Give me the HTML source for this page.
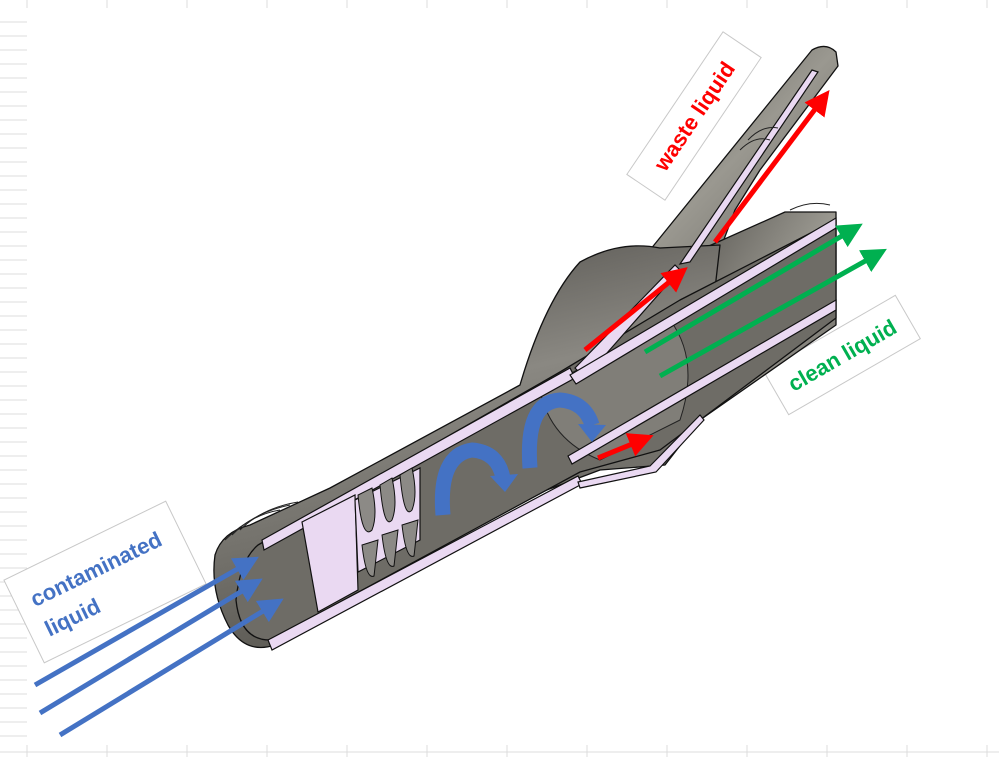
<!DOCTYPE html>
<html><head><meta charset="utf-8"><style>
html,body{margin:0;padding:0;background:#fff;}
svg{display:block;}
text{font-family:"Liberation Sans",sans-serif;font-weight:bold;}
</style></head><body>
<svg width="999" height="757" viewBox="0 0 999 757" xmlns="http://www.w3.org/2000/svg">
<defs>
<linearGradient id="g1" x1="0" y1="0" x2="0.3" y2="1">
<stop offset="0" stop-color="#4a4844"/><stop offset="0.45" stop-color="#8a8882"/><stop offset="1" stop-color="#5a5852"/></linearGradient>
<linearGradient id="g2" x1="0" y1="0" x2="1" y2="1">
<stop offset="0" stop-color="#5e5c57"/><stop offset="0.5" stop-color="#9a9890"/><stop offset="1" stop-color="#6a6863"/></linearGradient>
<marker id="ab" markerWidth="5" markerHeight="5" refX="2.5" refY="2.5" orient="auto" markerUnits="strokeWidth"><path d="M0,0 L5,2.5 L0,5z" fill="#4472c4"/></marker>
<marker id="ar" markerWidth="5" markerHeight="5" refX="2.5" refY="2.5" orient="auto" markerUnits="strokeWidth"><path d="M0,0 L5,2.5 L0,5z" fill="#ff0000"/></marker>
<marker id="ag" markerWidth="5" markerHeight="5" refX="2.5" refY="2.5" orient="auto" markerUnits="strokeWidth"><path d="M0,0 L5,2.5 L0,5z" fill="#00b050"/></marker>
</defs>
<g stroke="#dcdcdc" stroke-width="1">
<line x1="27" y1="0" x2="27" y2="8"/><line x1="107" y1="0" x2="107" y2="8"/><line x1="187" y1="0" x2="187" y2="8"/><line x1="267" y1="0" x2="267" y2="8"/><line x1="347" y1="0" x2="347" y2="8"/><line x1="427" y1="0" x2="427" y2="8"/><line x1="507" y1="0" x2="507" y2="8"/><line x1="587" y1="0" x2="587" y2="8"/><line x1="667" y1="0" x2="667" y2="8"/><line x1="747" y1="0" x2="747" y2="8"/><line x1="827" y1="0" x2="827" y2="8"/><line x1="907" y1="0" x2="907" y2="8"/><line x1="987" y1="0" x2="987" y2="8"/>
<line x1="27" y1="745" x2="27" y2="757"/><line x1="107" y1="745" x2="107" y2="757"/><line x1="187" y1="745" x2="187" y2="757"/><line x1="267" y1="745" x2="267" y2="757"/><line x1="347" y1="745" x2="347" y2="757"/><line x1="427" y1="745" x2="427" y2="757"/><line x1="507" y1="745" x2="507" y2="757"/><line x1="587" y1="745" x2="587" y2="757"/><line x1="667" y1="745" x2="667" y2="757"/><line x1="747" y1="745" x2="747" y2="757"/><line x1="827" y1="745" x2="827" y2="757"/><line x1="907" y1="745" x2="907" y2="757"/><line x1="987" y1="745" x2="987" y2="757"/>
<line x1="0" y1="752" x2="999" y2="752"/>
</g>
<g stroke="#dcdcdc" stroke-width="1">
<line x1="0" y1="22" x2="27" y2="22"/><line x1="0" y1="36" x2="27" y2="36"/><line x1="0" y1="50" x2="27" y2="50"/><line x1="0" y1="64" x2="27" y2="64"/><line x1="0" y1="78" x2="27" y2="78"/><line x1="0" y1="92" x2="27" y2="92"/><line x1="0" y1="106" x2="27" y2="106"/><line x1="0" y1="120" x2="27" y2="120"/><line x1="0" y1="134" x2="27" y2="134"/><line x1="0" y1="148" x2="27" y2="148"/><line x1="0" y1="162" x2="27" y2="162"/><line x1="0" y1="176" x2="27" y2="176"/><line x1="0" y1="190" x2="27" y2="190"/><line x1="0" y1="204" x2="27" y2="204"/><line x1="0" y1="218" x2="27" y2="218"/><line x1="0" y1="232" x2="27" y2="232"/><line x1="0" y1="246" x2="27" y2="246"/><line x1="0" y1="260" x2="27" y2="260"/><line x1="0" y1="274" x2="27" y2="274"/><line x1="0" y1="288" x2="27" y2="288"/><line x1="0" y1="302" x2="27" y2="302"/><line x1="0" y1="316" x2="27" y2="316"/><line x1="0" y1="330" x2="27" y2="330"/><line x1="0" y1="344" x2="27" y2="344"/><line x1="0" y1="358" x2="27" y2="358"/><line x1="0" y1="372" x2="27" y2="372"/><line x1="0" y1="386" x2="27" y2="386"/><line x1="0" y1="400" x2="27" y2="400"/><line x1="0" y1="414" x2="27" y2="414"/><line x1="0" y1="428" x2="27" y2="428"/><line x1="0" y1="442" x2="27" y2="442"/><line x1="0" y1="456" x2="27" y2="456"/><line x1="0" y1="470" x2="27" y2="470"/><line x1="0" y1="484" x2="27" y2="484"/><line x1="0" y1="498" x2="27" y2="498"/><line x1="0" y1="512" x2="27" y2="512"/><line x1="0" y1="526" x2="27" y2="526"/><line x1="0" y1="540" x2="27" y2="540"/><line x1="0" y1="554" x2="27" y2="554"/><line x1="0" y1="568" x2="27" y2="568"/><line x1="0" y1="582" x2="27" y2="582"/><line x1="0" y1="596" x2="27" y2="596"/><line x1="0" y1="610" x2="27" y2="610"/><line x1="0" y1="624" x2="27" y2="624"/><line x1="0" y1="638" x2="27" y2="638"/><line x1="0" y1="652" x2="27" y2="652"/><line x1="0" y1="666" x2="27" y2="666"/><line x1="0" y1="680" x2="27" y2="680"/><line x1="0" y1="694" x2="27" y2="694"/><line x1="0" y1="708" x2="27" y2="708"/><line x1="0" y1="722" x2="27" y2="722"/><line x1="0" y1="736" x2="27" y2="736"/>
</g>

<g transform="translate(105,582) rotate(-26)">
<rect x="-90" y="-46" width="180" height="92" fill="#fff" stroke="#c8c8c8"/>
<text x="-74" y="-8" font-size="22" fill="#4472c4">contaminated</text>
<text x="-74" y="25" font-size="22" fill="#4472c4">liquid</text>
</g>
<g transform="translate(694,116) rotate(-56)">
<rect x="-86" y="-23" width="172" height="46" fill="#fff" stroke="#c8c8c8"/>
<text x="0" y="8" font-size="22" fill="#ff0000" text-anchor="middle">waste liquid</text>
</g>
<g transform="translate(842,355) rotate(-30)">
<rect x="-76" y="-25" width="152" height="50" fill="#fff" stroke="#c8c8c8"/>
<text x="0" y="8" font-size="22" fill="#00b050" text-anchor="middle">clean liquid</text>
</g>

<g stroke="#111" stroke-width="1.3" stroke-linejoin="round">
<path d="M650,250 L812,50 Q826,42 836,52 L838,66 L760,170 L735,210 L720,250 Z" fill="url(#g2)"/>
<path d="M700,250 L785,212 L836,212 L836,325 L700,420 Z" fill="url(#g2)"/>
<path d="M215,555 Q222,532 250,525 L330,488 L520,385 Q545,300 580,262 Q620,240 660,248 L720,245 L700,420 L665,465 L600,470 L520,500 L275,645 Q245,655 228,625 Q210,590 215,555 Z" fill="url(#g1)"/>
<path d="M258,545 L560,372 L680,300 L836,220 L836,318 L660,450 L580,472 L270,640 Q240,640 236,600 Q240,560 258,545 Z" fill="#6e6c66"/>
<path d="M540,390 L670,320 Q700,360 680,420 L600,460 Q550,440 540,390 Z" fill="#807e78" stroke="#222" stroke-width="1"/>
</g>
<g fill="#ead9f2" stroke="#111" stroke-width="1.2">
<path d="M262,540 L570,368 L575,378 L264,550 Z"/>
<path d="M268,640 L578,476 L582,484 L272,650 Z"/>
<path d="M578,482 L650,466 L700,415 L704,420 L656,472 L580,488 Z"/>
<path d="M575,368 L675,265 L680,270 L585,378 Z"/>
<path d="M570,375 L836,218 L836,228 L576,384 Z"/>
<path d="M568,456 L836,300 L836,310 L572,464 Z"/>
<path d="M680,264 L812,70 L818,72 L690,262 Z"/>
<path d="M302,522 L355,495 L358,590 L318,612 Z"/>
<path d="M355,500 L420,468 L420,540 L358,572 Z"/>
</g>
<g fill="#8c8a86" stroke="#111" stroke-width="1">
<path d="M358,495 Q362,540 372,530 Q378,515 372,488 Z"/>
<path d="M380,485 Q384,530 392,520 Q398,505 392,478 Z"/>
<path d="M400,475 Q404,520 412,510 Q418,495 412,468 Z"/>
<path d="M362,545 Q366,580 374,576 L378,540 Z"/>
<path d="M382,535 Q386,570 394,566 L398,530 Z"/>
<path d="M402,525 Q406,560 414,556 L418,520 Z"/>
</g>
<g fill="none" stroke="#222" stroke-width="1">
<path d="M225,540 Q250,515 280,510"/><path d="M232,535 Q255,512 290,505"/><path d="M240,530 Q262,508 298,502"/>
<path d="M740,150 Q755,135 770,140"/><path d="M748,140 Q762,125 778,128"/><path d="M790,210 Q810,200 830,205"/>
</g>

<g fill="none" stroke="#4472c4" stroke-width="15" stroke-linecap="butt">
<path d="M443,515 Q438,455 472,450 Q498,452 503,478"/>
<path d="M530,468 Q525,402 560,400 Q585,402 592,425"/>
</g>
<path d="M490,476 L518,474 L505,492 Z" fill="#4472c4"/>
<path d="M578,424 L606,425 L592,442 Z" fill="#4472c4"/>

<g stroke-width="5" fill="none">
<line x1="35" y1="685" x2="248" y2="563" stroke="#4472c4" marker-end="url(#ab)"/>
<line x1="40" y1="713" x2="252" y2="585" stroke="#4472c4" marker-end="url(#ab)"/>
<line x1="60" y1="735" x2="273" y2="605" stroke="#4472c4" marker-end="url(#ab)"/>
<line x1="715" y1="242" x2="822" y2="100" stroke="#ff0000" marker-end="url(#ar)"/>
<line x1="585" y1="350" x2="678" y2="275" stroke="#ff0000" marker-end="url(#ar)"/>
<line x1="598" y1="458" x2="642" y2="440" stroke="#ff0000" marker-end="url(#ar)"/>
<line x1="645" y1="352" x2="852" y2="230" stroke="#00b050" marker-end="url(#ag)"/>
<line x1="660" y1="376" x2="876" y2="255" stroke="#00b050" marker-end="url(#ag)"/>
</g>
</svg>
</body></html>
